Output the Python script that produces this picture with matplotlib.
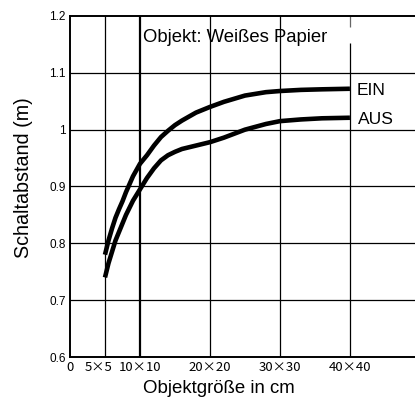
import matplotlib.pyplot as plt
from matplotlib.transforms import ScaledTranslation

# Werte (Objektgröße in cm, Schaltabstand in m)
groesse = [5, 5.5, 6, 6.5, 7, 7.5, 8, 9, 10, 11, 12, 13, 14, 15, 16, 18, 20, 22, 25, 28, 30, 33, 36, 40]
ein = [0.78, 0.805, 0.826, 0.845, 0.86, 0.874, 0.89, 0.918, 0.94, 0.955, 0.972, 0.987, 0.998, 1.008,
       1.016, 1.03, 1.04, 1.049, 1.06, 1.066, 1.068, 1.07, 1.071, 1.072]
aus = [0.74, 0.765, 0.785, 0.805, 0.82, 0.835, 0.85, 0.875, 0.895, 0.915, 0.932, 0.946, 0.955, 0.961,
       0.966, 0.972, 0.978, 0.986, 1.0, 1.01, 1.015, 1.018, 1.02, 1.021]

x_ticks = [0, 5, 10, 20, 30, 40]
x_labels = ['0', '5×5', '10×10', '20×20', '30×30', '40×40']
y_ticks = [0.6, 0.7, 0.8, 0.9, 1.0, 1.1, 1.2]
y_labels = ['0.6', '0.7', '0.8', '0.9', '1', '1.1', '1.2']

plt.rcParams['font.family'] = ['Liberation Sans', 'DejaVu Sans']

fig = plt.figure(figsize=(4.15, 4.08), dpi=100)
ax = fig.add_axes([70 / 415, 51 / 408, 345 / 415, 341 / 408])

ax.plot(groesse, ein, color='black', lw=3.3, solid_capstyle='butt', solid_joinstyle='round')
ax.plot(groesse, aus, color='black', lw=3.3, solid_capstyle='butt', solid_joinstyle='round')

ax.set_xlim(0, 49.3)
ax.set_ylim(0.6, 1.2)
ax.set_xticks(x_ticks)
ax.set_xticklabels(x_labels, family=['Noto Sans CJK JP', 'DejaVu Sans'], fontsize=9.5)
ax.set_yticks(y_ticks)
ax.set_yticklabels(y_labels, fontsize=8.5)
ax.tick_params(axis='y', length=0, pad=3)
ax.tick_params(axis='x', length=0, pad=3)

# "5x5" steht im Original etwas nach links versetzt
lbl = ax.get_xticklabels()[1]
lbl.set_transform(lbl.get_transform() + ScaledTranslation(-6 / 100, 0, fig.dpi_scale_trans))

# Gitter
for yt in y_ticks[1:-1]:
    ax.axhline(yt, color='black', lw=0.9, zorder=0)
for xt in x_ticks[1:-1]:
    ax.axvline(xt, color='black', lw=1.6 if xt == 10 else 0.9, zorder=0)
# Linie bei 40 hat eine Lücke neben dem Titel
ax.vlines(x_ticks[-1], 0.6, 1.153, color='black', lw=0.9, zorder=0)
ax.vlines(x_ticks[-1], 1.181, 1.2, color='0.4', lw=0.9, zorder=0)

ax.spines['right'].set_visible(False)
for s in ['left', 'top', 'bottom']:
    ax.spines[s].set_linewidth(1.4)

ax.text(23.6, 1.163, 'Objekt: Weißes Papier', ha='center', va='center', fontsize=13.3)
ax.text(40.9, 1.069, 'EIN', ha='left', va='center', fontsize=12.5)
ax.text(41.1, 1.018, 'AUS', ha='left', va='center', fontsize=12.5)

ax.set_xlabel('Objektgröße in cm', fontsize=13.4, va='center')
ax.xaxis.set_label_coords(0.432, -0.091)
ax.set_ylabel('Schaltabstand (m)', fontsize=14.2, va='center')
ax.yaxis.set_label_coords(-0.136, 0.525)

plt.savefig('out.png', dpi=100)
